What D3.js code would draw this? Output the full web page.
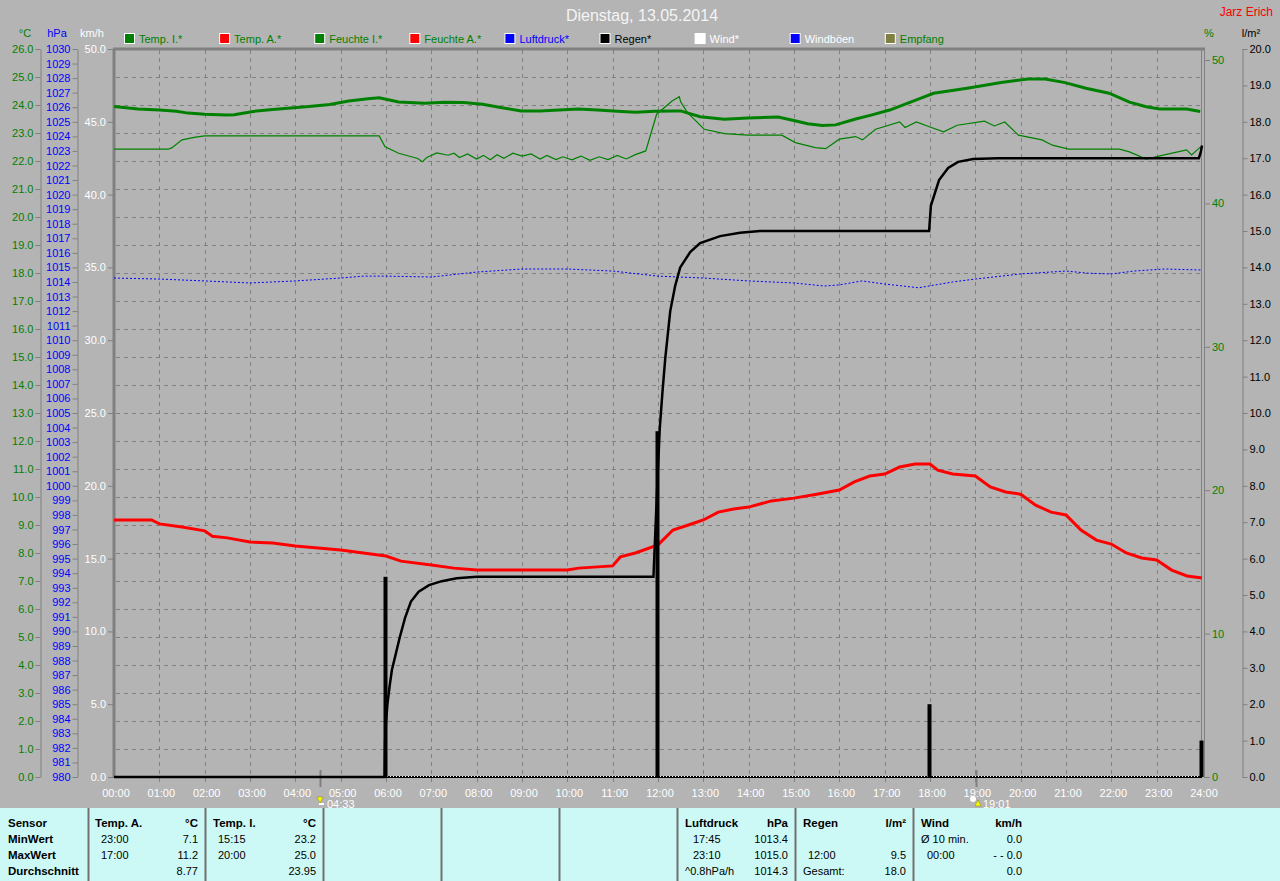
<!DOCTYPE html>
<html><head><meta charset="utf-8">
<script src="https://cdn.jsdelivr.net/npm/d3@7"></script>
<style>
html,body{margin:0;padding:0;background:#b4b4b4;}
svg{display:block;font-family:"Liberation Sans",Arial,sans-serif;}
</style></head><body>
<svg id="c" width="1280" height="881"></svg>
<script>
// ---------- data ----------
const title = "Dienstag, 13.05.2014";
const author = "Jarz Erich";
const hourLabels = ["00:00","01:00","02:00","03:00","04:00","05:00","06:00","07:00","08:00","09:00","10:00","11:00","12:00","13:00","14:00","15:00","16:00","17:00","18:00","19:00","20:00","21:00","22:00","23:00","24:00"];
const legendItems = ["Temp. I.*","Temp. A.*","Feuchte I.*","Feuchte A.*","Luftdruck*","Regen*","Wind*","Windböen","Empfang"];
const legendFill  = ["#008000","#ff0000","#008000","#ff0000","#0000ff","#000000","#ffffff","#0000ff","#808040"];
const legendText  = ["#008000","#008000","#008000","#008000","#0000ff","#000000","#ffffff","#ffffff","#008000"];

const tempTicks = [0,1,2,3,4,5,6,7,8,9,10,11,12,13,14,15,16,17,18,19,20,21,22,23,24,25,26];
const hpaTicks = [980,981,982,983,984,985,986,987,988,989,990,991,992,993,994,995,996,997,998,999,1000,1001,1002,1003,1004,1005,1006,1007,1008,1009,1010,1011,1012,1013,1014,1015,1016,1017,1018,1019,1020,1021,1022,1023,1024,1025,1026,1027,1028,1029,1030];
const kmhTicks = [0,5,10,15,20,25,30,35,40,45,50];
const humTicks = [0,10,20,30,40,50];
const rainTicks = [0,1,2,3,4,5,6,7,8,9,10,11,12,13,14,15,16,17,18,19,20];

// Temp. I. (°C) [hour, value]
const tempIn = [[0,23.95],[0.53,23.86],[1.0,23.82],[1.38,23.78],[1.63,23.71],[2.0,23.67],[2.47,23.64],[2.65,23.65],[3.07,23.77],[3.5,23.84],[3.9,23.89],[4.3,23.95],[4.76,24.02],[5.18,24.14],[5.6,24.22],[5.85,24.26],[6.28,24.11],[6.86,24.06],[7.28,24.1],[7.71,24.09],[8.13,24.03],[8.56,23.9],[8.98,23.79],[9.4,23.79],[10.24,23.86],[10.67,23.82],[11.1,23.78],[11.51,23.74],[11.93,23.78],[12.35,23.79],[12.5,23.79],[12.93,23.58],[13.46,23.49],[13.98,23.54],[14.65,23.57],[15.02,23.44],[15.3,23.33],[15.62,23.27],[15.92,23.29],[16.36,23.5],[16.7,23.64],[17.11,23.82],[17.7,24.18],[18.08,24.42],[18.82,24.6],[19.57,24.8],[20.16,24.93],[20.54,24.93],[20.98,24.8],[21.44,24.6],[21.95,24.42],[22.4,24.1],[22.77,23.94],[23.07,23.86],[23.66,23.86],[23.96,23.77]];

// Feuchte I. (%) [hour, value]
const humIn = [[0,43.78],[1.2,43.78],[1.28,43.89],[1.5,44.43],[1.8,44.62],[2.0,44.71],[5.85,44.71],[5.98,43.94],[6.28,43.5],[6.7,43.13],[6.8,42.9],[6.9,43.2],[7.12,43.52],[7.37,43.36],[7.5,43.5],[7.62,43.2],[7.8,43.45],[8.0,43.1],[8.15,43.35],[8.3,43.05],[8.45,43.4],[8.6,43.15],[8.8,43.5],[9.0,43.3],[9.2,43.45],[9.4,43.1],[9.55,43.35],[9.75,43.05],[9.9,43.25],[10.1,43.04],[10.3,43.3],[10.5,43.0],[10.7,43.25],[10.9,43.05],[11.1,43.35],[11.3,43.1],[11.5,43.4],[11.73,43.66],[11.97,46.22],[12.31,47.14],[12.47,47.44],[12.5,47.08],[12.65,46.33],[13.02,45.17],[13.47,44.87],[13.98,44.76],[14.73,44.76],[15.03,44.24],[15.47,43.89],[15.7,43.82],[16.0,44.48],[16.36,44.66],[16.51,44.43],[16.8,45.17],[17.33,45.68],[17.45,45.29],[17.7,45.68],[18.0,45.33],[18.3,44.99],[18.6,45.45],[19.2,45.73],[19.42,45.4],[19.65,45.68],[19.95,44.76],[20.47,44.43],[20.7,44.06],[21.06,43.78],[22.18,43.78],[22.4,43.59],[22.77,43.09],[23.07,43.31],[23.66,43.73],[23.77,43.38],[23.97,43.94]];

// Temp. A. (°C) [hour, value]
const tempOut = [[0,9.18],[0.83,9.18],[1.0,9.04],[1.5,8.93],[2.0,8.79],[2.17,8.6],[2.5,8.54],[3.0,8.39],[3.5,8.36],[4.0,8.25],[4.5,8.18],[5.0,8.11],[5.5,8.0],[6.0,7.89],[6.33,7.71],[7.0,7.57],[7.5,7.46],[8.0,7.39],[9.0,7.39],[10.0,7.39],[10.25,7.46],[11.0,7.54],[11.17,7.86],[11.5,8.0],[12.0,8.29],[12.33,8.82],[12.67,9.0],[13.0,9.18],[13.33,9.46],[13.67,9.57],[14.0,9.64],[14.5,9.86],[15.0,9.96],[15.5,10.1],[16.0,10.25],[16.33,10.54],[16.67,10.75],[17.0,10.82],[17.33,11.07],[17.67,11.18],[18.0,11.18],[18.17,10.96],[18.5,10.82],[19.0,10.75],[19.33,10.36],[19.67,10.18],[20.0,10.1],[20.33,9.71],[20.67,9.46],[21.0,9.36],[21.33,8.82],[21.67,8.46],[22.0,8.32],[22.33,8.0],[22.67,7.82],[23.0,7.75],[23.33,7.39],[23.67,7.18],[24.0,7.11]];

// Luftdruck (hPa) [hour, value]
const pressure = [[0,1014.27],[1,1014.2],[2,1014.07],[3,1013.93],[4,1014.07],[5,1014.27],[5.5,1014.4],[6,1014.4],[7,1014.34],[8,1014.68],[9,1014.89],[10,1014.89],[11,1014.75],[12,1014.4],[13,1014.27],[14,1014.07],[15,1013.93],[15.67,1013.72],[16,1013.8],[16.5,1014.07],[17,1013.86],[17.75,1013.6],[18.5,1014.0],[19,1014.2],[20,1014.55],[21,1014.75],[21.5,1014.6],[22,1014.55],[22.5,1014.75],[23.17,1014.89],[24,1014.82]];

// Regen kumuliert (l/m²) [hour, value]
const rainSum = [[0,0],[5.97,0],[5.98,1.0],[6.0,1.5],[6.03,1.98],[6.08,2.5],[6.13,2.94],[6.2,3.3],[6.3,3.82],[6.42,4.37],[6.55,4.82],[6.72,5.09],[6.95,5.27],[7.23,5.38],[7.56,5.46],[8.0,5.5],[11.9,5.5],[11.95,7.0],[12.0,8.5],[12.04,9.6],[12.1,10.6],[12.16,11.5],[12.27,12.8],[12.38,13.5],[12.49,14.0],[12.71,14.42],[12.93,14.67],[13.37,14.86],[13.81,14.95],[14.25,15.0],[17.98,15.0],[18.02,15.7],[18.2,16.4],[18.4,16.73],[18.62,16.9],[18.95,16.98],[19.5,17.0],[23.93,17.0],[23.97,17.15],[24,17.35]];
// Regen Intervall (l/m²)
const rainBarHours = [6,12,18,24];
const rainBarValues = [5.5,9.5,2.0,1.0];
// Wind (km/h)
const wind = [[0,0],[24,0]];

const sunEvents = [{h:4.55,label:"04:33"},{h:19.017,label:"19:01"}];

const tableCols = [
  {x:8, rows:[["Sensor",""],["MinWert",""],["MaxWert",""],["Durchschnitt",""]], boldAll:true},
];
const tableTemperatureA = [["Temp. A.","°C"],["23:00","7.1"],["17:00","11.2"],["","8.77"]];
const tableTemperatureI = [["Temp. I.","°C"],["15:15","23.2"],["20:00","25.0"],["","23.95"]];
const tablePressure = [["Luftdruck","hPa"],["17:45","1013.4"],["23:10","1015.0"],["^0.8hPa/h","1014.3"]];
const tableRain = [["Regen","l/m²"],["",""],["12:00","9.5"],["Gesamt:","18.0"]];
const tableWind = [["Wind","km/h"],["Ø 10 min.","0.0"],["00:00","- - 0.0"],["","0.0"]];

// ---------- drawing ----------
const svg = d3.select("#c");
const X0 = 114, X1 = 1202, YT = 49, YB = 777;
const x = d3.scaleLinear([0,24],[X0,X1]);
const yC = d3.scaleLinear([0,26],[YB,YT]);
const yP = d3.scaleLinear([980,1030],[YB,YT]);
const yK = d3.scaleLinear([0,50],[YB,YT]);
const yH = d3.scaleLinear([0,50],[YB,60]);
const yR = d3.scaleLinear([0,20],[YB,YT]);
const grey = "#808080";

svg.append("rect").attr("width",1280).attr("height",881).attr("fill","#b4b4b4");

// title
svg.append("text").attr("x",642).attr("y",21).attr("text-anchor","middle").attr("font-size",16).attr("fill","#f4f4f4").text(title);
svg.append("text").attr("x",1273).attr("y",16).attr("text-anchor","end").attr("font-size",12).attr("fill","#ff0000").text(author);

// unit headers
const unitH = [{t:"°C",x:25,c:"#008000"},{t:"hPa",x:57,c:"#0000ff"},{t:"km/h",x:92,c:"#ffffff"},{t:"%",x:1209,c:"#008000"},{t:"l/m²",x:1251,c:"#000000"}];
svg.selectAll(".unit").data(unitH).enter().append("text").attr("x",d=>d.x).attr("y",37).attr("text-anchor","middle").attr("font-size",11).attr("fill",d=>d.c).text(d=>d.t);

// legend
const lg = svg.selectAll(".lg").data(legendItems).enter().append("g").attr("transform",(d,i)=>`translate(${124+i*95.1},33)`);
lg.append("rect").attr("x",0.5).attr("y",0.5).attr("width",10).attr("height",10).attr("fill",(d,i)=>legendFill[i]).attr("stroke","#ffffff").attr("stroke-width",1);
lg.append("text").attr("x",15).attr("y",9.5).attr("font-size",11).attr("fill",(d,i)=>legendText[i]).text(d=>d);

// grid
const gridG = svg.append("g").attr("stroke",grey).attr("stroke-width",1).attr("stroke-dasharray","4,4");
gridG.selectAll(".hg").data(tempTicks.filter(t=>t>0&&t<26)).enter().append("line")
  .attr("x1",X0+2).attr("x2",X1).attr("y1",d=>Math.round(yC(d))+0.5).attr("y2",d=>Math.round(yC(d))+0.5);
gridG.selectAll(".vg").data(d3.range(1,24)).enter().append("line")
  .attr("x1",d=>Math.round(x(d))+0.5).attr("x2",d=>Math.round(x(d))+0.5).attr("y1",YT+1).attr("y2",YB+5);

// frame
svg.append("line").attr("x1",X0-1).attr("x2",X1+3).attr("y1",YT).attr("y2",YT).attr("stroke",grey).attr("stroke-width",3);
svg.append("line").attr("x1",X0).attr("x2",X0).attr("y1",YT).attr("y2",YB+1).attr("stroke",grey).attr("stroke-width",3);
svg.append("line").attr("x1",X1-0.5).attr("x2",X1-0.5).attr("y1",YT).attr("y2",YB).attr("stroke",grey).attr("stroke-width",1);
svg.append("line").attr("x1",X1+2.5).attr("x2",X1+2.5).attr("y1",YT).attr("y2",YB).attr("stroke",grey).attr("stroke-width",1);
svg.selectAll(".tt").data(d3.range(1,24)).enter().append("line")
  .attr("x1",d=>Math.round(x(d))+0.5).attr("x2",d=>Math.round(x(d))+0.5).attr("y1",YT).attr("y2",YT+5).attr("stroke",grey);

// axes
function styleAxis(g, color, showDomain){
  g.selectAll(".tick line").attr("stroke",grey);
  g.selectAll(".tick text").attr("fill",color).attr("font-size",11).attr("font-family","Liberation Sans, Arial, sans-serif");
  g.select(".domain").attr("stroke",showDomain?grey:"none");
}
const fmt1 = d3.format(".1f");
let g;
g = svg.append("g").attr("transform","translate(40.5,0)").call(d3.axisLeft(yC).tickValues(tempTicks).tickFormat(fmt1).tickSize(5).tickSizeOuter(0).tickPadding(2));
styleAxis(g,"#008000",true);
g = svg.append("g").attr("transform","translate(77.5,0)").call(d3.axisLeft(yP).tickValues(hpaTicks).tickFormat(d3.format("d")).tickSize(5).tickSizeOuter(0).tickPadding(2));
styleAxis(g,"#0000ff",true);
g = svg.append("g").attr("transform","translate(113,0)").call(d3.axisLeft(yK).tickValues(kmhTicks).tickFormat(fmt1).tickSize(5).tickSizeOuter(0).tickPadding(2));
styleAxis(g,"#ffffff",false);
g = svg.append("g").attr("transform","translate(1204,0)").call(d3.axisRight(yH).tickValues(humTicks).tickFormat(d3.format("d")).tickSize(6).tickSizeOuter(0).tickPadding(2));
styleAxis(g,"#008000",false);
g = svg.append("g").attr("transform","translate(1242.5,0)").call(d3.axisRight(yR).tickValues(rainTicks).tickFormat(fmt1).tickSize(5).tickSizeOuter(0).tickPadding(2));
styleAxis(g,"#000000",true);

// x labels
svg.selectAll(".xl").data(hourLabels).enter().append("text")
  .attr("x",(d,i)=>x(i)+2).attr("y",797).attr("text-anchor","middle").attr("font-size",11).attr("fill","#ffffff").text(d=>d);

// sunrise/sunset
sunEvents.forEach((s,i)=>{
  const sx = Math.round(x(s.h));
  svg.append("line").attr("x1",sx+0.5).attr("x2",sx+0.5).attr("y1",770).attr("y2",787).attr("stroke",grey).attr("stroke-width",2);
  if(i===0){
    svg.append("path").attr("d",`M${sx-3},797 L${sx+3},797 L${sx},803 Z`).attr("fill","#ffff00").attr("stroke","#808000").attr("stroke-width",0.5);
    svg.append("rect").attr("x",sx-1).attr("y",803).attr("width",5).attr("height",2).attr("fill","#ffffff");
  } else {
    svg.append("circle").attr("cx",sx-3).attr("cy",799).attr("r",3).attr("fill","#ffffff");
    svg.append("path").attr("d",`M${sx-1},806 L${sx+5},806 L${sx+2},800 Z`).attr("fill","#ffff00").attr("stroke","#808000").attr("stroke-width",0.5);
  }
  svg.append("text").attr("x",sx+7).attr("y",808).attr("font-size",11).attr("fill","#ffffff").text(s.label);
});

// wind line (dotted)
const lineK = d3.line().x(d=>x(d[0])).y(d=>yK(d[1]));
svg.append("path").attr("d",lineK(wind)).attr("fill","none").attr("stroke","#000000").attr("stroke-width",2);
svg.append("path").attr("d",lineK(wind)).attr("fill","none").attr("stroke","#ffffff").attr("stroke-width",1).attr("stroke-dasharray","1,2").attr("transform","translate(0,-0.5)");

// pressure
svg.append("path").attr("d",d3.line().x(d=>x(d[0])).y(d=>yP(d[1]))(pressure))
  .attr("fill","none").attr("stroke","#0000ff").attr("stroke-width",1).attr("stroke-dasharray","2,2");

// humidity in
svg.append("path").attr("d",d3.line().x(d=>x(d[0])).y(d=>yH(d[1]))(humIn))
  .attr("fill","none").attr("stroke","#008000").attr("stroke-width",1.2);

// temp in
svg.append("path").attr("d",d3.line().x(d=>x(d[0])).y(d=>yC(d[1]))(tempIn))
  .attr("fill","none").attr("stroke","#008000").attr("stroke-width",3);

// temp out
svg.append("path").attr("d",d3.line().x(d=>x(d[0])).y(d=>yC(d[1]))(tempOut))
  .attr("fill","none").attr("stroke","#ff0000").attr("stroke-width",3);

// rain bars
svg.selectAll(".rb").data(rainBarHours).enter().append("rect")
  .attr("x",d=>x(d)-2.5).attr("width",4).attr("y",(d,i)=>yR(rainBarValues[i])).attr("height",(d,i)=>YB-yR(rainBarValues[i])).attr("fill","#000000");

// rain cumulative (hide wind line before 6:00)
svg.append("path").attr("d",d3.line().x(d=>x(d[0])).y(d=>yR(d[1]))(rainSum))
  .attr("fill","none").attr("stroke","#000000").attr("stroke-width",2.5);

// ---------- table ----------
const TY = 808;
svg.append("rect").attr("x",0).attr("y",TY).attr("width",1280).attr("height",881-TY).attr("fill","#ccf9f5");
const seps = [88,205,323,441,559,677,795,913];
svg.selectAll(".sep").data(seps).enter().append("line").attr("x1",d=>d+0.5).attr("x2",d=>d+0.5).attr("y1",TY).attr("y2",881).attr("stroke","#707070").attr("stroke-width",2);
const rowY = [827,843,859,875];
const labelsCol = ["Sensor","MinWert","MaxWert","Durchschnitt"];
svg.selectAll(".tl").data(labelsCol).enter().append("text").attr("x",8).attr("y",(d,i)=>rowY[i]).attr("font-size",11.5).attr("font-weight","bold").attr("fill","#000").text(d=>d);
function tableBlock(data, xl, xIndent, xr){
  data.forEach((r,i)=>{
    const bold = i===0;
    svg.append("text").attr("x",bold?xl:xIndent(r[0])).attr("y",rowY[i]).attr("font-size",bold?11.5:11).attr("font-weight",bold?"bold":"normal").attr("fill","#000").text(r[0]);
    svg.append("text").attr("x",xr).attr("y",rowY[i]).attr("text-anchor","end").attr("font-size",bold?11.5:11).attr("font-weight",bold?"bold":"normal").attr("fill","#000").text(r[1]);
  });
}
tableBlock(tableTemperatureA,95,()=>101,198);
tableBlock(tableTemperatureI,213,()=>218,316);
tableBlock(tablePressure,685,t=>t.startsWith("^")?685:693,788);
tableBlock(tableRain,803,t=>t==="Gesamt:"?803:808,906);
tableBlock(tableWind,921,t=>t.startsWith("Ø")?921:927,1022);
</script>
</body></html>
